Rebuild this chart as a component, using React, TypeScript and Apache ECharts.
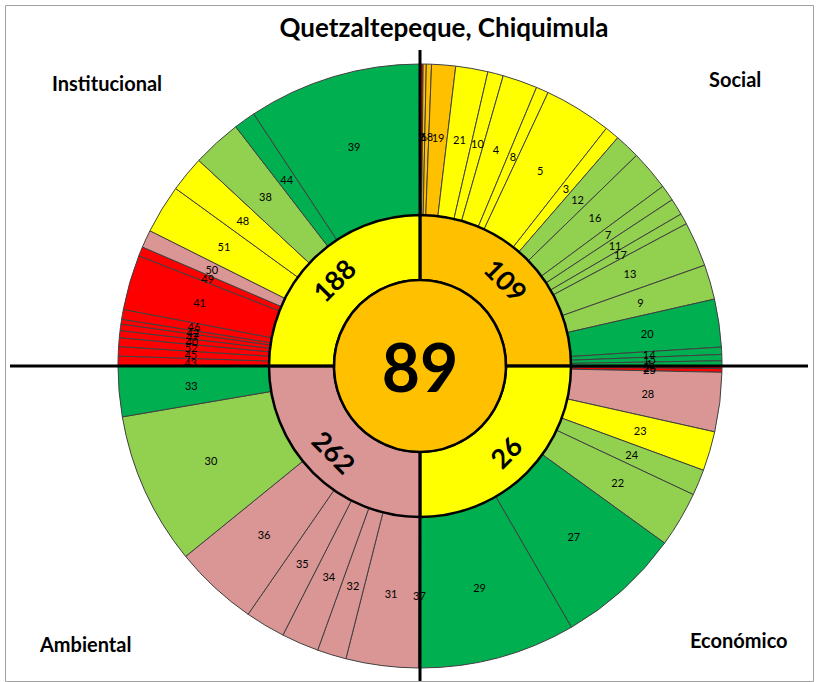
import React, { useEffect, useRef } from "react";
import * as echarts from "echarts";

// Outer ring: indicator ids, angular spans (degrees, each quadrant = 90) and level colours
const socialIds = ["2", "6", "18", "19", "21", "10", "4", "8", "5", "3", "12", "16", "7", "11", "17", "13", "9", "20", "14", "15", "1"];
const socialSpans = [0.6, 0.6, 1.0, 4.6, 6.2, 3.0, 6.7, 2.4, 13.0, 2.8, 4.9, 7.7, 3.1, 3.2, 2.1, 8.6, 6.7, 9.2, 1.4, 1.2, 1.0];
const socialLevels = ["R", "O", "O", "O", "Y", "Y", "Y", "Y", "Y", "Y", "LG", "LG", "LG", "LG", "LG", "LG", "LG", "DG", "DG", "DG", "DG"];

const economicIds = ["26", "25", "28", "23", "24", "22", "27", "29"];
const economicSpans = [0.5, 0.7, 11.4, 7.6, 5.0, 10.7, 24.0, 30.1];
const economicLevels = ["R", "R", "P", "Y", "LG", "LG", "DG", "DG"];

const ambientalIds = ["37", "31", "32", "34", "35", "36", "30", "33"];
const ambientalSpans = [0.3, 13.9, 5.6, 7.2, 7.7, 16.2, 29.4, 9.7];
const ambientalLevels = ["P", "P", "P", "P", "P", "P", "LG", "DG"];

const institucionalIds = ["43", "45", "52", "40", "47", "42", "46", "41", "49", "50", "51", "48", "38", "44", "39"];
const institucionalSpans = [1.9, 1.8, 1.7, 1.35, 1.25, 0.9, 1.9, 10.6, 1.8, 3.4, 9.4, 6.9, 9.5, 4.2, 33.4];
const institucionalLevels = ["R", "R", "R", "R", "R", "R", "R", "R", "R", "P", "Y", "Y", "LG", "DG", "DG"];

// Inner ring (dimensions) and centre
const dimensionNames = ["Social", "Económico", "Ambiental", "Institucional"];
const dimensionTotals = [109, 26, 262, 188];
const dimensionLevels = ["O", "Y", "P", "Y"];
const overallValue = 89;
const overallLevel = "O";

const titleText = "Quetzaltepeque, Chiquimula";

const LEVEL_COLORS: Record<string, string> = {
  R: "#FF0000",
  O: "#FFC000",
  Y: "#FFFF00",
  LG: "#92D050",
  DG: "#00B050",
  P: "#DA9694",
};

const FONT = "Lato, 'Open Sans', sans-serif";
const CX = 420;
const CY = 366;

function buildOuter() {
  const groups = [
    [socialIds, socialSpans, socialLevels],
    [economicIds, economicSpans, economicLevels],
    [ambientalIds, ambientalSpans, ambientalLevels],
    [institucionalIds, institucionalSpans, institucionalLevels],
  ] as [string[], number[], string[]][];
  const out: any[] = [];
  groups.forEach(([ids, spans, levels]) => {
    ids.forEach((id, i) => {
      out.push({ name: id, value: spans[i], itemStyle: { color: LEVEL_COLORS[levels[i]] } });
    });
  });
  return out;
}

export default function App() {
  const ref = useRef<HTMLDivElement>(null);
  useEffect(() => {
    const chart = echarts.init(ref.current!, null, { renderer: "svg" });
    const innerRot = [-45, 45, -45, 45];
    const option: any = {
      animation: false,
      backgroundColor: "#ffffff",
      series: [
        {
          type: "pie",
          silent: true,
          center: [CX, CY],
          radius: [151, 302],
          startAngle: 90,
          clockwise: true,
          avoidLabelOverlap: false,
          minShowLabelAngle: 0,
          emphasis: { disabled: true },
          itemStyle: { borderColor: "#404040", borderWidth: 1 },
          label: {
            show: true,
            position: "inside",
            formatter: "{b}",
            fontSize: 11,
            fontFamily: FONT,
            color: "#000",
          },
          labelLayout: { hideOverlap: false },
          labelLine: { show: false },
          data: buildOuter(),
          z: 2,
        },
        {
          type: "pie",
          silent: true,
          center: [CX, CY],
          radius: [86, 151],
          startAngle: 90,
          clockwise: true,
          avoidLabelOverlap: false,
          emphasis: { disabled: true },
          itemStyle: { borderColor: "#000", borderWidth: 2.5 },
          label: {
            show: true,
            position: "inside",
            formatter: "{b}",
            fontSize: 27,
            fontWeight: "bold",
            fontFamily: FONT,
            color: "#000",
          },
          labelLine: { show: false },
          data: dimensionNames.map((n, i) => ({
            name: String(dimensionTotals[i]),
            value: 1,
            itemStyle: { color: LEVEL_COLORS[dimensionLevels[i]] },
            label: { rotate: innerRot[i] },
          })),
          z: 3,
        },
        {
          type: "pie",
          silent: true,
          center: [CX, CY],
          radius: [0, 86],
          emphasis: { disabled: true },
          itemStyle: { borderColor: "#000", borderWidth: 2.5, color: LEVEL_COLORS[overallLevel] },
          label: {
            show: true,
            position: "center",
            formatter: "{b}",
            fontSize: 66,
            fontWeight: "bold",
            fontFamily: FONT,
            color: "#000",
          },
          labelLine: { show: false },
          data: [{ name: String(overallValue), value: 1 }],
          z: 20,
        },
      ],
      graphic: [
        {
          type: "rect",
          z: 1,
          silent: true,
          shape: { x: 5.5, y: 5.5, width: 808, height: 676 },
          style: { fill: "none", stroke: "#a0a0a0", lineWidth: 1 },
        },
        {
          type: "line",
          z: 10,
          silent: true,
          shape: { x1: CX, y1: 50, x2: CX, y2: 681 },
          style: { stroke: "#000", lineWidth: 3 },
        },
        {
          type: "line",
          z: 10,
          silent: true,
          shape: { x1: 10, y1: CY, x2: 808, y2: CY },
          style: { stroke: "#000", lineWidth: 3 },
        },
        {
          type: "text",
          z: 30,
          x: 444,
          y: 27,
          style: { text: titleText, font: `bold 26px ${FONT}`, fill: "#000", align: "center", verticalAlign: "middle" },
        },
        {
          type: "text",
          z: 30,
          x: 52,
          y: 83,
          style: { text: dimensionNames[3], font: `bold 20px ${FONT}`, fill: "#000", align: "left", verticalAlign: "middle" },
        },
        {
          type: "text",
          z: 30,
          x: 709,
          y: 79,
          style: { text: dimensionNames[0], font: `bold 20px ${FONT}`, fill: "#000", align: "left", verticalAlign: "middle" },
        },
        {
          type: "text",
          z: 30,
          x: 40,
          y: 644,
          style: { text: dimensionNames[2], font: `bold 20px ${FONT}`, fill: "#000", align: "left", verticalAlign: "middle" },
        },
        {
          type: "text",
          z: 30,
          x: 690,
          y: 640,
          style: { text: dimensionNames[1], font: `bold 20px ${FONT}`, fill: "#000", align: "left", verticalAlign: "middle" },
        },
      ],
    };
    chart.setOption(option);
    return () => chart.dispose();
  }, []);
  return (
    <div
      ref={ref}
      style={{ position: "absolute", left: 0, top: 0, width: 819, height: 682, background: "#fff" }}
    />
  );
}
